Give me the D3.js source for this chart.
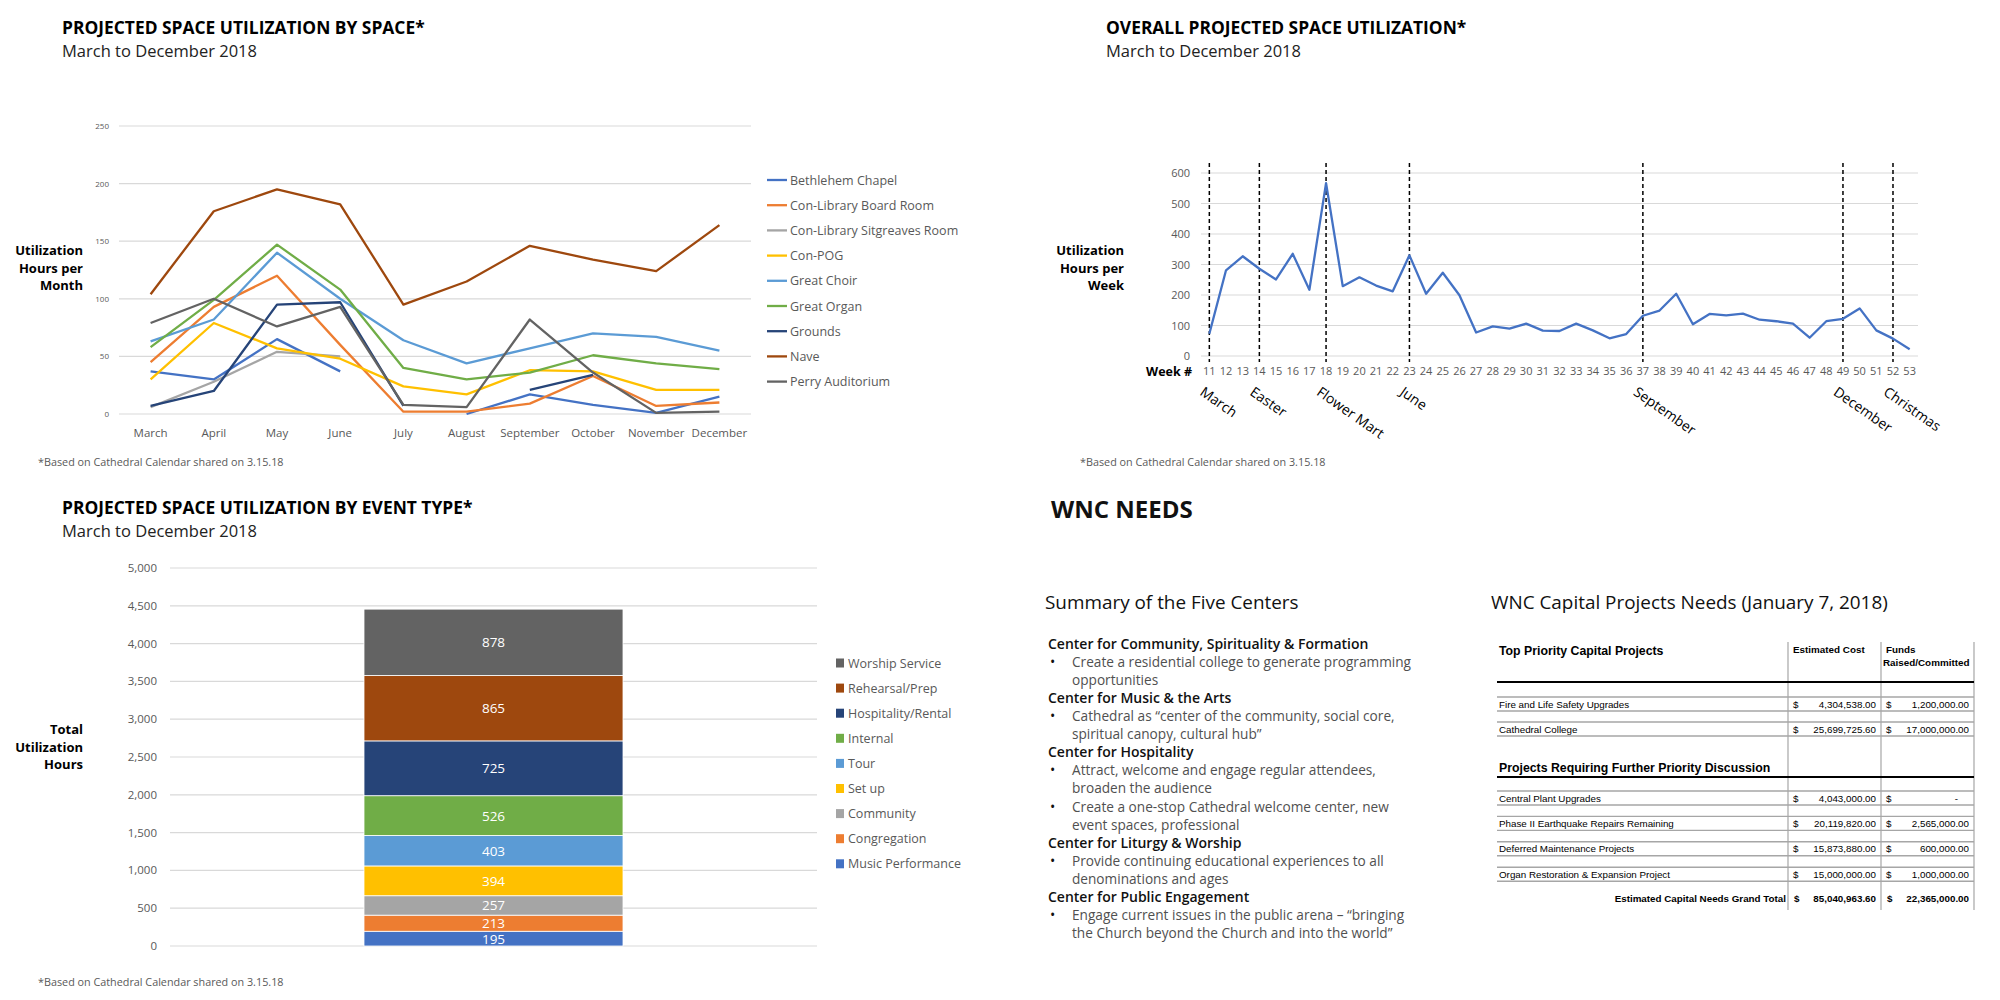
<!DOCTYPE html>
<html>
<head>
<meta charset="utf-8">
<script src="https://cdn.jsdelivr.net/npm/d3@7"></script>
<style>
  body { margin: 0; background: #fff; }
  svg { display: block; }
</style>
</head>
<body>
<svg id="page" width="2000" height="1000"></svg>
<script>
// ---- data: utilization by space (hours per month)
var months = ["March", "April", "May", "June", "July", "August", "September", "October", "November", "December"]
var spaceNames = ["Bethlehem Chapel", "Con-Library Board Room", "Con-Library Sitgreaves Room", "Con-POG", "Great Choir", "Great Organ", "Grounds", "Nave", "Perry Auditorium"]
var spaceColors = ["#4472C4", "#ED7D31", "#A5A5A5", "#FFC000", "#5B9BD5", "#70AD47", "#264478", "#9E480E", "#636363"]
var bethlehemChapel = [37, 30, 65, 37, null, 0, 17, 8, 1, 15]
var boardRoom = [45, 93, 120, 60, 2, 2, 9, 33, 7, 10]
var sitgreavesRoom = [6, 28, 54, 50, null, null, null, null, null, null]
var conPOG = [30, 79, 57, 48, 24, 17, 38, 37, 21, 21]
var greatChoir = [63, 82, 140, 100, 64, 44, 57, 70, 67, 55]
var greatOrgan = [58, 99, 147, 108, 40, 30, 36, 51, 44, 39]
var grounds = [7, 20, 95, 97, 7, null, 21, 34, null, null]
var nave = [104, 176, 195, 182, 95, 115, 146, 134, 124, 164]
var perryAuditorium = [79, 100, 76, 93, 8, 6, 82, 36, 1, 2]
var spaceTicks = [0, 50, 100, 150, 200, 250]

// ---- data: overall weekly utilization
var weeks = [11, 12, 13, 14, 15, 16, 17, 18, 19, 20, 21, 22, 23, 24, 25, 26, 27, 28, 29, 30, 31, 32,
             33, 34, 35, 36, 37, 38, 39, 40, 41, 42, 43, 44, 45, 46, 47, 48, 49, 50, 51, 52, 53]
var weeklyHours = [73, 281, 327, 286, 251, 335, 217, 567, 229, 258, 231, 212, 330, 204, 273, 199, 77, 97, 90, 106, 83, 82,
                   106, 84, 58, 72, 132, 149, 204, 104, 138, 133, 139, 119, 114, 106, 60, 114, 122, 156, 84, 57, 22]
var eventWeeks = [11, 14, 18, 23, 37, 49, 52]
var eventLabels = ["March", "Easter", "Flower Mart", "June", "September", "December", "Christmas"]
var weekTicks = [0, 100, 200, 300, 400, 500, 600]

// ---- data: utilization by event type (bottom to top)
var eventTypes = ["Music Performance", "Congregation", "Community", "Set up", "Tour", "Internal", "Hospitality/Rental", "Rehearsal/Prep", "Worship Service"]
var eventHours = [195, 213, 257, 394, 403, 526, 725, 865, 878]
var eventColors = ["#4472C4", "#ED7D31", "#A5A5A5", "#FFC000", "#5B9BD5", "#70AD47", "#264478", "#9E480E", "#636363"]
var totalTicks = [0, 500, 1000, 1500, 2000, 2500, 3000, 3500, 4000, 4500, 5000]

// ---- data: WNC needs
var centers = ["Center for Community, Spirituality & Formation", "Center for Music & the Arts", "Center for Hospitality",
               "Center for Liturgy & Worship", "Center for Public Engagement"]
var centerBullets = [
  [["Create a residential college to generate programming", "opportunities"]],
  [["Cathedral as \u201ccenter of the community, social core,", "spiritual canopy, cultural hub\u201d"]],
  [["Attract, welcome and engage regular attendees,", "broaden the audience"],
   ["Create a one-stop Cathedral welcome center, new", "event spaces, professional"]],
  [["Provide continuing educational experiences to all", "denominations and ages"]],
  [["Engage current issues in the public arena \u2013 \u201cbringing", "the Church beyond the Church and into the world\u201d"]]
]
var topProjects = ["Fire and Life Safety Upgrades", "Cathedral College"]
var topCost = ["4,304,538.00", "25,699,725.60"]
var topFunds = ["1,200,000.00", "17,000,000.00"]
var otherProjects = ["Central Plant Upgrades", "Phase II Earthquake Repairs Remaining", "Deferred Maintenance Projects", "Organ Restoration & Expansion Project"]
var otherCost = ["4,043,000.00", "20,119,820.00", "15,873,880.00", "15,000,000.00"]
var otherFunds = ["-", "2,565,000.00", "600,000.00", "1,000,000.00"]
var grandTotal = ["85,040,963.60", "22,365,000.00"]

var FONT = "'Segoe UI', 'Open Sans', sans-serif"
var GRID = "#d9d9d9"
var AXIS_TEXT = "#595959"

var svg = d3.select('#page').style('font-family', FONT)
svg.append('rect').attr('width', 2000).attr('height', 1000).attr('fill', '#fff')

function heading(x, y, title, sub) {
  svg.append('text').attr('x', x).attr('y', y).text(title)
    .attr('font-size', '17.4px').attr('font-weight', 700).attr('fill', '#000')
  svg.append('text').attr('x', x).attr('y', y + 23).text(sub)
    .attr('font-size', '16.5px').attr('fill', '#222')
}

function yTitle(xRight, y, lines) {
  svg.append('text').attr('x', xRight).attr('y', y)
    .attr('text-anchor', 'end').attr('font-size', '13px').attr('font-weight', 700)
    .selectAll('tspan').data(lines).enter().append('tspan')
    .attr('x', xRight).attr('dy', function(d, i) { return i ? 17.5 : 0 })
    .text(function(d) { return d })
}

function footnote(x, y) {
  svg.append('text').attr('x', x).attr('y', y).text('*Based on Cathedral Calendar shared on 3.15.18')
    .attr('font-size', '10.8px').attr('fill', AXIS_TEXT)
}

// ================= chart 1: by space =================
heading(62, 34, 'PROJECTED SPACE UTILIZATION BY SPACE*', 'March to December 2018')

var x1 = d3.scaleBand().domain(months).range([119, 751])
var y1 = d3.scaleLinear().domain([0, 250]).range([414, 126])

var g1 = svg.append('g')
g1.selectAll('line.grid').data(spaceTicks).enter().append('line')
  .attr('x1', 119).attr('x2', 751)
  .attr('y1', function(d) { return y1(d) }).attr('y2', function(d) { return y1(d) })
  .attr('stroke', GRID).attr('stroke-width', 1.2)
g1.selectAll('text.tick').data(spaceTicks).enter().append('text')
  .attr('x', 109).attr('y', function(d) { return y1(d) + 3 })
  .attr('text-anchor', 'end').attr('font-size', '8px').attr('fill', AXIS_TEXT)
  .text(function(d) { return d })
g1.selectAll('text.month').data(months).enter().append('text')
  .attr('x', function(d) { return x1(d) + x1.bandwidth() / 2 }).attr('y', 437)
  .attr('text-anchor', 'middle').attr('font-size', '11.5px').attr('fill', AXIS_TEXT)
  .text(function(d) { return d })

var spaceSeries = [bethlehemChapel, boardRoom, sitgreavesRoom, conPOG, greatChoir, greatOrgan, grounds, nave, perryAuditorium]
var line1 = d3.line()
  .defined(function(d) { return d != null })
  .x(function(d, i) { return x1(months[i]) + x1.bandwidth() / 2 })
  .y(function(d) { return y1(d) })
g1.selectAll('path.series').data(spaceSeries).enter().append('path')
  .attr('d', line1).attr('fill', 'none')
  .attr('stroke', function(d, i) { return spaceColors[i] })
  .attr('stroke-width', 2.3).attr('stroke-linejoin', 'round')

var leg1 = g1.selectAll('g.leg').data(spaceNames).enter().append('g')
  .attr('transform', function(d, i) { return 'translate(767,' + (180 + i * 25.2) + ')' })
leg1.append('line').attr('x1', 0).attr('x2', 20)
  .attr('stroke', function(d, i) { return spaceColors[i] }).attr('stroke-width', 2.3)
leg1.append('text').attr('x', 23).attr('y', 4.5).attr('font-size', '12.5px').attr('fill', AXIS_TEXT)
  .text(function(d) { return d })

yTitle(83, 255, ['Utilization', 'Hours per', 'Month'])
footnote(38, 466)

// ================= chart 2: overall weekly =================
heading(1106, 34, 'OVERALL PROJECTED SPACE UTILIZATION*', 'March to December 2018')

var x2 = d3.scaleBand().domain(weeks).range([1201, 1918])
var y2 = d3.scaleLinear().domain([0, 600]).range([356, 173])
function wx(w) { return x2(w) + x2.bandwidth() / 2 }

var g2 = svg.append('g')
g2.selectAll('line.grid').data(weekTicks).enter().append('line')
  .attr('x1', 1201).attr('x2', 1918)
  .attr('y1', function(d) { return y2(d) }).attr('y2', function(d) { return y2(d) })
  .attr('stroke', GRID).attr('stroke-width', 1.2)
g2.selectAll('text.tick').data(weekTicks).enter().append('text')
  .attr('x', 1190).attr('y', function(d) { return y2(d) + 4 })
  .attr('text-anchor', 'end').attr('font-size', '11px').attr('fill', AXIS_TEXT)
  .text(function(d) { return d })
g2.selectAll('text.week').data(weeks).enter().append('text')
  .attr('x', wx).attr('y', 375)
  .attr('text-anchor', 'middle').attr('font-size', '11px').attr('fill', AXIS_TEXT)
  .text(function(d) { return d })
g2.append('text').attr('x', 1192).attr('y', 376).attr('text-anchor', 'end')
  .attr('font-size', '12.5px').attr('font-weight', 700).text('Week #')

g2.selectAll('line.event').data(eventWeeks).enter().append('line')
  .attr('x1', wx).attr('x2', wx).attr('y1', 163).attr('y2', 362)
  .attr('stroke', '#000').attr('stroke-width', 1.5).attr('stroke-dasharray', '4,3')

g2.append('path').datum(weeklyHours)
  .attr('d', d3.line()
    .x(function(d, i) { return wx(weeks[i]) })
    .y(function(d) { return y2(d) }))
  .attr('fill', 'none').attr('stroke', '#4472C4').attr('stroke-width', 2.3).attr('stroke-linejoin', 'round')

g2.selectAll('text.event').data(eventWeeks).enter().append('text')
  .attr('transform', function(d) { return 'translate(' + (wx(d) - 4) + ',385) rotate(35)' })
  .attr('dy', '0.8em').attr('font-size', '14px').attr('fill', '#000')
  .text(function(d, i) { return eventLabels[i] })

yTitle(1124, 255, ['Utilization', 'Hours per', 'Week'])
footnote(1080, 466)

// ================= chart 3: by event type =================
heading(62, 514, 'PROJECTED SPACE UTILIZATION BY EVENT TYPE*', 'March to December 2018')

var y3 = d3.scaleLinear().domain([0, 5000]).range([946, 568])

var g3 = svg.append('g')
g3.selectAll('line.grid').data(totalTicks).enter().append('line')
  .attr('x1', 170).attr('x2', 817)
  .attr('y1', function(d) { return y3(d) }).attr('y2', function(d) { return y3(d) })
  .attr('stroke', GRID).attr('stroke-width', 1.2)
g3.selectAll('text.tick').data(totalTicks).enter().append('text')
  .attr('x', 157).attr('y', function(d) { return y3(d) + 4 })
  .attr('text-anchor', 'end').attr('font-size', '11.5px').attr('fill', AXIS_TEXT)
  .text(d3.format(','))

var stackRow = {}
eventTypes.forEach(function(t, i) { stackRow[t] = eventHours[i] })
var stacked = d3.stack().keys(eventTypes)([stackRow])
var bx = 364, bw = 259
var seg = g3.selectAll('g.seg').data(stacked).enter().append('g')
seg.append('rect')
  .attr('x', bx).attr('width', bw)
  .attr('y', function(d) { return y3(d[0][1]) })
  .attr('height', function(d) { return y3(d[0][0]) - y3(d[0][1]) })
  .attr('fill', function(d, i) { return eventColors[i] })
  .attr('stroke', '#fff').attr('stroke-width', 0.8)
seg.append('text')
  .attr('x', bx + bw / 2)
  .attr('y', function(d) { return (y3(d[0][0]) + y3(d[0][1])) / 2 + 5 })
  .attr('text-anchor', 'middle').attr('font-size', '13.5px').attr('fill', '#fff')
  .text(function(d, i) { return eventHours[i] })

var leg3 = g3.selectAll('g.leg').data(eventTypes.slice().reverse()).enter().append('g')
  .attr('transform', function(d, i) { return 'translate(836,' + (663 + i * 25.1) + ')' })
leg3.append('rect').attr('x', 0).attr('y', -4.5).attr('width', 8).attr('height', 9)
  .attr('fill', function(d) { return eventColors[eventTypes.indexOf(d)] })
leg3.append('text').attr('x', 12).attr('y', 4.5).attr('font-size', '12.5px').attr('fill', AXIS_TEXT)
  .text(function(d) { return d })

yTitle(83, 734, ['Total', 'Utilization', 'Hours'])
footnote(38, 986)

// ================= WNC needs =================
svg.append('text').attr('x', 1051).attr('y', 518).text('WNC NEEDS')
  .attr('font-size', '24px').attr('font-weight', 700).attr('fill', '#111')
svg.append('text').attr('x', 1045).attr('y', 609).text('Summary of the Five Centers')
  .attr('font-size', '18.9px').attr('fill', '#111')
svg.append('text').attr('x', 1491).attr('y', 609).text('WNC Capital Projects Needs (January 7, 2018)')
  .attr('font-size', '18.9px').attr('fill', '#111')

var lineH = 18.06, ly = 649
var gc = svg.append('g')
centers.forEach(function(c, ci) {
  gc.append('text').attr('x', 1048).attr('y', ly).text(c)
    .attr('font-size', '14px').attr('font-weight', 600).attr('fill', '#111')
  ly += lineH
  centerBullets[ci].forEach(function(b) {
    gc.append('text').attr('x', 1050).attr('y', ly).text('\u2022').attr('font-size', '14px').attr('fill', '#111')
    b.forEach(function(l) {
      gc.append('text').attr('x', 1072).attr('y', ly).text(l)
        .attr('font-size', '13.65px').attr('fill', '#505050')
      ly += lineH
    })
  })
})

// table
var tx0 = 1497, tc1 = 1788, tc2 = 1881, tx3 = 1974
var TFONT = "Arial, 'Liberation Sans', sans-serif"
var gt = svg.append('g').style('font-family', TFONT)
gt.selectAll('line.col').data([tc1, tc2, tx3]).enter().append('line')
  .attr('x1', function(d) { return d }).attr('x2', function(d) { return d })
  .attr('y1', 642).attr('y2', 910).attr('stroke', '#a6a6a6').attr('stroke-width', 1.2)

gt.append('text').attr('x', 1499).attr('y', 655).text('Top Priority Capital Projects')
  .attr('font-size', '12.3px').attr('font-weight', 700)
gt.append('text').attr('x', 1793).attr('y', 653).text('Estimated Cost')
  .attr('font-size', '9.85px').attr('font-weight', 700)
gt.append('text').attr('x', 1886).attr('y', 653).text('Funds')
  .attr('font-size', '9.85px').attr('font-weight', 700)
gt.append('text').attr('x', 1883).attr('y', 666).text('Raised/Committed')
  .attr('font-size', '9.85px').attr('font-weight', 700)
gt.append('line').attr('x1', tx0).attr('x2', tx3).attr('y1', 682).attr('y2', 682)
  .attr('stroke', '#000').attr('stroke-width', 2)

gt.append('text').attr('x', 1499).attr('y', 772).text('Projects Requiring Further Priority Discussion')
  .attr('font-size', '12.3px').attr('font-weight', 700)
gt.append('line').attr('x1', tx0).attr('x2', tx3).attr('y1', 777).attr('y2', 777)
  .attr('stroke', '#000').attr('stroke-width', 2)

function tableRows(names, cost, funds, top, pitch) {
  names.forEach(function(n, i) {
    var yTop = top + i * pitch
    gt.selectAll(null).data([yTop, yTop + 14]).enter().append('line')
      .attr('x1', tx0).attr('x2', tx3)
      .attr('y1', function(d) { return d }).attr('y2', function(d) { return d })
      .attr('stroke', '#a6a6a6').attr('stroke-width', 1.4)
    var yb = yTop + 10.5
    gt.append('text').attr('x', 1499).attr('y', yb).text(n).attr('font-size', '9.8px')
    gt.append('text').attr('x', 1793).attr('y', yb).text('$').attr('font-size', '9.8px')
    gt.append('text').attr('x', 1876).attr('y', yb).attr('text-anchor', 'end').text(cost[i]).attr('font-size', '9.8px')
    gt.append('text').attr('x', 1886).attr('y', yb).text('$').attr('font-size', '9.8px')
    gt.append('text').attr('x', funds[i] === '-' ? 1958 : 1969).attr('y', yb).attr('text-anchor', 'end')
      .text(funds[i]).attr('font-size', '9.8px')
  })
}
tableRows(topProjects, topCost, topFunds, 697, 25)
tableRows(otherProjects, otherCost, otherFunds, 791, 25.4)

gt.append('text').attr('x', 1786).attr('y', 902).attr('text-anchor', 'end')
  .text('Estimated Capital Needs Grand Total').attr('font-size', '9.8px').attr('font-weight', 700)
gt.append('text').attr('x', 1794).attr('y', 902).text('$').attr('font-size', '9.8px').attr('font-weight', 700)
gt.append('text').attr('x', 1876).attr('y', 902).attr('text-anchor', 'end').text(grandTotal[0]).attr('font-size', '9.8px').attr('font-weight', 700)
gt.append('text').attr('x', 1887).attr('y', 902).text('$').attr('font-size', '9.8px').attr('font-weight', 700)
gt.append('text').attr('x', 1969).attr('y', 902).attr('text-anchor', 'end').text(grandTotal[1]).attr('font-size', '9.8px').attr('font-weight', 700)
</script>
</body>
</html>
